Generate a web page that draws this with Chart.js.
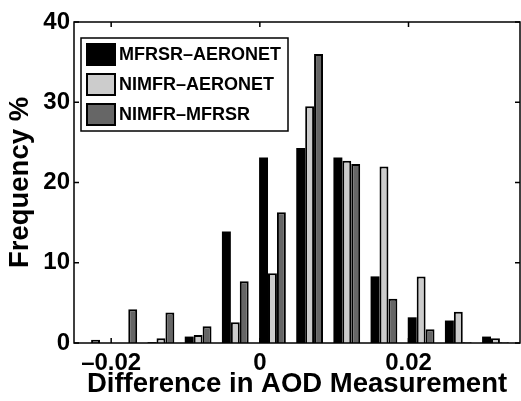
<!DOCTYPE html>
<html>
<head>
<meta charset="utf-8">
<script src="https://cdn.jsdelivr.net/npm/chart.js@4/dist/chart.umd.min.js"></script>
<style>
  html, body { margin: 0; padding: 0; background: #fff; }
  .chart-area { width: 521px; height: 401px; position: relative; }
</style>
</head>
<body>
<div class="chart-area"><canvas id="aodChart"></canvas></div>
<script>
// bin centres of the histogram (AOD difference)
const binCenters = [-0.0233, -0.0183, -0.0133, -0.0083, -0.0033, 0.0017,
                    0.0067, 0.0117, 0.0167, 0.0217, 0.0267, 0.0317];

// frequency % per bin
const mfrsrAeronet = [0, 0, 0.1, 0.8, 13.9, 23.1, 24.3, 23.1, 8.3, 3.2, 2.8, 0.8];
const nimfrAeronet = [0, 0, 0.6, 1.0, 2.6, 8.7, 29.5, 22.7, 22.0, 8.3, 3.9, 0.6];
const nimfrMfrsr   = [0.4, 4.2, 3.8, 2.1, 7.7, 16.3, 36.0, 22.3, 5.5, 1.7, 0.1, 0.1];

const seriesNames  = ['MFRSR–AERONET', 'NIMFR–AERONET', 'NIMFR–MFRSR'];
const seriesColors = ['#000000', '#cccccc', '#666666'];

const xTickValues = [-0.02, 0, 0.02];
const yTickValues = [0, 10, 20, 30, 40];

const FONT = 'Liberation Sans, Arial, Helvetica, sans-serif';

function toPoints(values) {
  return values.map((v, i) => ({ x: binCenters[i], y: v }));
}

const datasets = [mfrsrAeronet, nimfrAeronet, nimfrMfrsr].map((vals, i) => ({
  label: seriesNames[i],
  data: toPoints(vals),
  backgroundColor: seriesColors[i],
  borderColor: '#000',
  // black bars need no outline (avoids the AA seam inside them)
  borderWidth: i === 0 ? 0 : 2,
  borderSkipped: 'bottom',
  barPercentage: 1.0,
  categoryPercentage: 0.72
}));

// axes box, inward ticks and the boxed legend (matlab look)
const framePlugin = {
  id: 'frame',
  afterDatasetsDraw(chart) {
    const { ctx, chartArea: a, scales: { x, y } } = chart;
    ctx.save();
    ctx.strokeStyle = '#000';
    ctx.lineWidth = 1.5;
    ctx.strokeRect(a.left, a.top, a.right - a.left, a.bottom - a.top);

    ctx.beginPath();
    xTickValues.forEach(v => {
      const px = x.getPixelForValue(v);
      ctx.moveTo(px, a.bottom); ctx.lineTo(px, a.bottom - 5);
      ctx.moveTo(px, a.top); ctx.lineTo(px, a.top + 5);
    });
    yTickValues.forEach(v => {
      const py = y.getPixelForValue(v);
      ctx.moveTo(a.left, py); ctx.lineTo(a.left + 5, py);
      ctx.moveTo(a.right, py); ctx.lineTo(a.right - 5, py);
    });
    ctx.stroke();

    // legend
    const lx = 81, ly = 38, lw = 207, lh = 93;
    ctx.fillStyle = '#fff';
    ctx.fillRect(lx, ly, lw, lh);
    ctx.lineWidth = 1.5;
    ctx.strokeRect(lx, ly, lw, lh);

    ctx.font = 'bold 18px ' + FONT;
    ctx.textBaseline = 'middle';
    chart.data.datasets.forEach((ds, i) => {
      const top = 43 + i * 30;
      ctx.fillStyle = ds.backgroundColor;
      ctx.fillRect(86, top, 30, 23);
      ctx.lineWidth = 2;
      ctx.strokeStyle = '#000';
      ctx.strokeRect(87, top + 1, 28, 21);
      ctx.fillStyle = '#000';
      ctx.fillText(ds.label, 119, top + 12);
    });
    ctx.restore();
  }
};

const chart = new Chart(document.getElementById('aodChart').getContext('2d'), {
  type: 'bar',
  data: { datasets },
  plugins: [framePlugin],
  options: {
    responsive: true,
    maintainAspectRatio: false,
    animation: false,
    layout: { padding: { left: 0, right: 1, top: 22, bottom: 0 } },
    plugins: {
      legend: { display: false },
      tooltip: { enabled: false }
    },
    scales: {
      x: {
        type: 'linear',
        offset: false,
        min: -0.025,
        max: 0.035,
        grid: { display: false, drawTicks: false, offset: false },
        border: { display: false },
        afterBuildTicks: s => { s.ticks = xTickValues.map(v => ({ value: v })); },
        afterFit: s => { s.height = 58; },
        ticks: {
          padding: 6,
          color: '#000',
          font: { family: FONT, size: 24, weight: 'bold' },
          callback: v => (v < 0 ? '–' + Math.abs(v) : String(v))
        },
        title: {
          display: true,
          text: 'Difference in AOD Measurement',
          color: '#000',
          font: { family: FONT, size: 27.5, weight: 'bold' },
          padding: { top: 0, bottom: 0 }
        }
      },
      y: {
        min: 0,
        max: 40,
        grid: { display: false, drawTicks: false },
        border: { display: false },
        afterBuildTicks: s => { s.ticks = yTickValues.map(v => ({ value: v })); },
        afterFit: s => { s.width = 74; },
        ticks: {
          padding: 4,
          color: '#000',
          font: { family: FONT, size: 24, weight: 'bold' }
        },
        title: {
          display: true,
          text: 'Frequency %',
          color: '#000',
          font: { family: FONT, size: 27.5, weight: 'bold' },
          padding: { top: 4, bottom: 0 }
        }
      }
    }
  }
});
</script>
</body>
</html>
